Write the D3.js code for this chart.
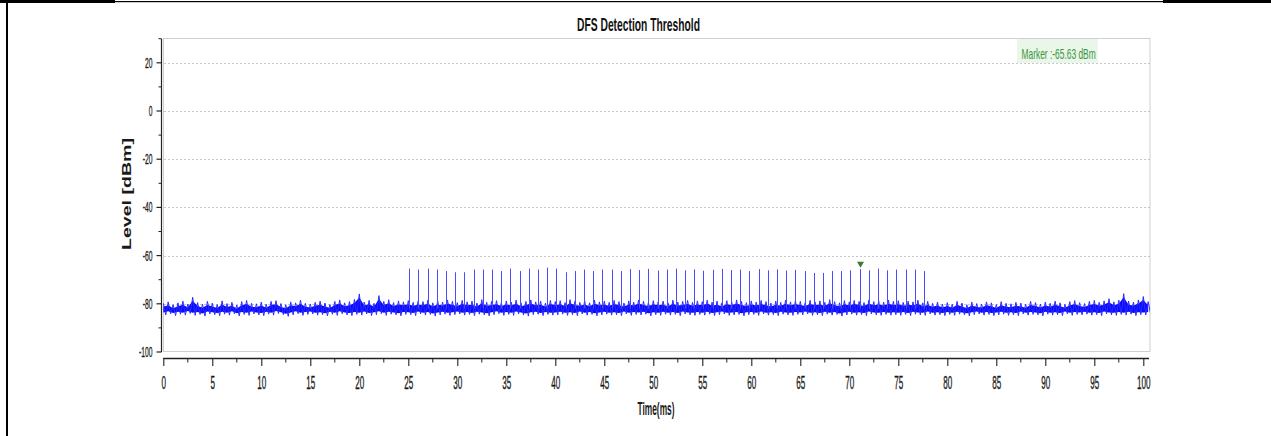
<!DOCTYPE html>
<html>
<head>
<meta charset="utf-8">
<script src="https://cdn.jsdelivr.net/npm/d3@7"></script>
<style>
  html, body { margin: 0; padding: 0; background: #fff; }
  svg { display: block; }
  text { font-family: "Liberation Sans", Arial, sans-serif; }
</style>
</head>
<body>
<svg id="chart" width="1271" height="436"></svg>
<script>
// ---------------- DATA ----------------
const chartTitle = "DFS Detection Threshold";
const xLabel = "Time(ms)";
const yLabel = "Level [dBm]";
const markerText = "Marker :-65.63 dBm";
const markerTime = 71.06;
const markerLevel = -65.63;

const xTicks = [0, 5, 10, 15, 20, 25, 30, 35, 40, 45, 50, 55, 60, 65, 70, 75, 80, 85, 90, 95, 100];
const yTicks = [-100, -80, -60, -40, -20, 0, 20];

// noise envelope, sampled every 0.5 ms from 0 to 100.5 ms (dBm)
const noiseHigh = [
  -79.8,-79.2,-80.4,-79.6,-78.9,-80.1,-77.3,-79.5,-80.2,-79.0,
  -79.7,-80.3,-78.8,-79.9,-79.4,-80.5,-79.1,-78.6,-79.8,-80.0,
  -79.3,-80.2,-79.0,-78.7,-79.9,-80.4,-79.2,-79.6,-78.5,-79.8,
  -80.1,-79.4,-78.9,-79.7,-80.3,-79.0,-78.4,-79.6,-79.1,-78.2,
  -75.9,-79.3,-78.6,-79.8,-76.6,-79.0,-78.3,-79.5,-78.8,-79.2,
  -78.7,-79.4,-78.9,-79.1,-78.5,-79.6,-78.8,-79.3,-78.4,-79.0,
  -79.5,-78.6,-79.2,-78.9,-79.7,-78.3,-79.4,-79.0,-78.7,-79.5,
  -78.8,-79.3,-78.5,-79.6,-79.0,-78.4,-79.2,-78.9,-79.7,-78.6,
  -79.1,-78.7,-79.5,-78.3,-79.0,-79.4,-78.8,-79.6,-78.5,-79.2,
  -78.9,-79.4,-78.6,-79.1,-79.7,-78.8,-79.3,-78.4,-79.0,-79.5,
  -78.7,-79.2,-78.9,-79.6,-78.5,-79.3,-79.0,-78.6,-79.4,-78.8,
  -79.1,-78.5,-79.3,-78.9,-79.6,-78.7,-79.2,-78.4,-79.0,-79.5,
  -78.8,-79.3,-78.6,-79.1,-79.7,-78.9,-79.4,-78.5,-79.2,-78.7,
  -79.0,-79.5,-78.6,-79.2,-78.8,-79.4,-78.3,-79.1,-79.6,-78.7,
  -79.2,-78.6,-79.0,-79.5,-78.4,-79.1,-78.8,-79.3,-78.5,-79.0,
  -78.7,-79.4,-78.9,-79.2,-78.5,-79.6,-79.0,-79.8,-79.3,-80.1,
  -79.5,-80.2,-79.0,-79.7,-80.4,-79.3,-79.9,-80.1,-79.2,-79.6,
  -80.3,-79.1,-79.8,-80.0,-79.4,-79.7,-80.2,-79.0,-79.5,-80.1,
  -79.3,-79.8,-78.9,-79.6,-80.2,-79.1,-78.7,-79.5,-79.9,-79.0,
  -78.6,-79.4,-78.8,-77.9,-79.2,-78.5,-75.8,-78.9,-79.3,-78.4,
  -77.0,-79.1
];
const noiseLow = [
  -84.6,-84.1,-84.9,-84.3,-84.7,-84.0,-84.8,-84.4,-85.1,-84.2,
  -84.5,-84.9,-84.3,-84.7,-84.1,-85.0,-84.4,-84.8,-84.2,-84.6,
  -84.9,-84.3,-84.7,-84.0,-84.5,-85.2,-84.6,-84.1,-84.8,-84.4,
  -84.2,-84.7,-84.5,-85.0,-84.3,-84.8,-84.1,-84.6,-84.9,-84.4,
  -84.7,-84.2,-84.9,-84.5,-84.1,-84.8,-84.3,-84.6,-85.0,-84.4,
  -84.5,-84.9,-84.2,-84.7,-84.4,-85.1,-84.6,-84.3,-84.8,-84.5,
  -84.2,-84.7,-84.4,-84.9,-84.3,-84.6,-85.0,-84.5,-84.1,-84.8,
  -84.4,-84.8,-84.2,-84.6,-85.1,-84.5,-84.3,-84.9,-84.4,-84.7,
  -84.6,-84.3,-84.8,-84.5,-84.9,-84.2,-84.7,-84.4,-85.0,-84.6,
  -84.3,-84.7,-84.5,-84.9,-84.2,-84.8,-84.4,-84.6,-84.3,-85.0,
  -84.5,-84.8,-84.3,-84.7,-84.4,-84.9,-84.2,-84.6,-84.8,-84.4,
  -84.7,-84.3,-84.9,-84.5,-84.2,-84.8,-84.6,-84.4,-85.0,-84.5,
  -84.4,-84.8,-84.2,-84.7,-84.5,-84.9,-84.3,-84.6,-84.8,-84.4,
  -84.6,-84.2,-84.8,-84.5,-84.9,-84.3,-84.7,-84.4,-85.1,-84.6,
  -84.3,-84.7,-84.5,-84.9,-84.2,-84.6,-84.8,-84.4,-84.7,-84.5,
  -84.8,-84.4,-84.9,-84.3,-84.6,-84.8,-84.2,-84.7,-84.5,-84.9,
  -84.4,-84.8,-84.3,-84.6,-85.0,-84.5,-84.2,-84.7,-84.4,-84.9,
  -84.6,-84.3,-84.8,-84.5,-84.9,-84.2,-84.7,-84.4,-84.6,-85.0,
  -84.3,-84.7,-84.5,-84.9,-84.2,-84.8,-84.4,-84.6,-84.3,-84.7,
  -84.5,-84.9,-84.2,-84.6,-84.8,-84.4,-84.7,-84.3,-84.9,-84.5,
  -84.6,-84.4
];
const noiseBase = -82.0;

// radar pulses (time in ms, peak level in dBm)
const pulseTimes = [
  25.10,26.04,26.98,27.91,28.85,29.79,30.73,31.67,32.60,33.54,
  34.48,35.42,36.36,37.29,38.23,39.17,40.11,41.05,41.98,42.92,
  43.86,44.80,45.74,46.67,47.61,48.55,49.49,50.43,51.36,52.30,
  53.24,54.18,55.12,56.05,56.99,57.93,58.87,59.81,60.74,61.68,
  62.62,63.56,64.50,65.43,66.37,67.31,68.25,69.19,70.12,71.06,
  72.00,72.94,73.88,74.81,75.75,76.69,77.63
];
const pulsePeaks = [
  -65.4,-65.8,-65.4,-65.8,-66.4,-66.9,-66.9,-65.8,-65.8,-65.8,
  -66.4,-65.4,-66.4,-65.4,-65.8,-65.0,-65.4,-66.9,-66.4,-65.8,
  -66.4,-65.8,-65.8,-66.4,-65.6,-66.0,-65.5,-66.2,-65.8,-65.4,
  -66.1,-65.7,-66.3,-65.9,-65.5,-66.0,-65.8,-66.4,-65.6,-66.1,
  -65.7,-66.2,-65.9,-66.4,-67.2,-67.2,-66.4,-66.4,-66.1,-65.6,
  -66.1,-65.4,-66.1,-65.8,-65.8,-65.8,-66.4
];

// ---------------- DRAW ----------------
const svg = d3.select("#chart");
const x = d3.scaleLinear().domain([0, 100]).range([163.3, 1143.3]);
const y = d3.scaleLinear().domain([-100, 30]).range([352, 38.7]);
const plotRight = 1150;

svg.append("defs").append("clipPath").attr("id", "plotClip")
  .append("rect").attr("x", 163).attr("y", 38).attr("width", plotRight - 163).attr("height", 314);

// outer page frame lines
svg.append("rect").attr("x", 6).attr("y", 0).attr("width", 2).attr("height", 436).attr("fill", "#000");
svg.append("rect").attr("x", 0).attr("y", 0).attr("width", 115).attr("height", 3).attr("fill", "#000");
svg.append("rect").attr("x", 115).attr("y", 1).attr("width", 1048).attr("height", 1.2).attr("fill", "#000");
svg.append("rect").attr("x", 1163).attr("y", 0).attr("width", 108).attr("height", 3).attr("fill", "#000");

// plot frame
svg.append("rect")
  .attr("x", 163.5).attr("y", 38.5)
  .attr("width", plotRight - 163.5).attr("height", 351.5 - 38.5)
  .attr("fill", "none").attr("stroke", "#d0d0d0").attr("stroke-width", 1);

// horizontal grid
svg.append("g").selectAll("line").data(yTicks.filter(v => v > -100)).join("line")
  .attr("x1", 164).attr("x2", plotRight)
  .attr("y1", d => Math.round(y(d)) + 0.5).attr("y2", d => Math.round(y(d)) + 0.5)
  .attr("stroke", "#c8c8c8").attr("stroke-width", 1).attr("stroke-dasharray", "2,2");

// marker label box
svg.append("rect").attr("x", 1017).attr("y", 39).attr("width", 81).attr("height", 24)
  .attr("fill", "#e9f6e9");
svg.append("text")
  .attr("transform", "translate(1021.5,59) scale(0.6,1)")
  .attr("font-size", 14).attr("fill", "#3a963a")
  .text(markerText);

// noise: dense core + min/max trace
const plotG = svg.append("g").attr("clip-path", "url(#plotClip)");
const tGrid = d3.range(noiseHigh.length).map(i => i * 0.5);
const core = d3.area()
  .x((d, i) => x(tGrid[i]))
  .y0((d, i) => y(noiseLow[i]) - 2.5)
  .y1((d, i) => y(noiseHigh[i]) + 3.5);
plotG.append("path").datum(noiseHigh)
  .attr("d", core)
  .attr("fill", "#0a0aff");

const tracePts = [];
tGrid.forEach((t, i) => {
  tracePts.push([x(t), y(noiseHigh[i])]);
  tracePts.push([x(t + 0.25), y(noiseLow[i])]);
});
plotG.append("path")
  .attr("d", d3.line()(tracePts))
  .attr("fill", "none").attr("stroke", "#2a2aff").attr("stroke-width", 1)
  .attr("stroke-linejoin", "miter");

// pulses
plotG.append("g").selectAll("line").data(pulseTimes).join("line")
  .attr("x1", d => Math.round(x(d)) + 0.5).attr("x2", d => Math.round(x(d)) + 0.5)
  .attr("y1", y(noiseBase))
  .attr("y2", (d, i) => y(pulsePeaks[i]))
  .attr("stroke", "#4b4bff").attr("stroke-width", 1);

// marker triangle
const mx = Math.round(x(markerTime)) + 0.5, my = y(markerLevel) - 1.5;
svg.append("path")
  .attr("d", `M${mx - 3.5},${my - 6} L${mx + 3.5},${my - 6} L${mx},${my} Z`)
  .attr("fill", "#3b7a3b");

// y axis
const yMinor = [-90, -70, -50, -30, -10, 10, 30];
const yAxisG = svg.append("g").attr("transform", "translate(161.5,0)");
yAxisG.append("line").attr("x1", 0).attr("x2", 0).attr("y1", y(30)).attr("y2", y(-100))
  .attr("stroke", "#222").attr("stroke-width", 1.2);
yAxisG.selectAll(".ymaj").data(yTicks).join("line").attr("class", "ymaj")
  .attr("x1", -5).attr("x2", 0).attr("y1", d => y(d)).attr("y2", d => y(d))
  .attr("stroke", "#222").attr("stroke-width", 1.2);
yAxisG.selectAll(".ymin").data(yMinor).join("line").attr("class", "ymin")
  .attr("x1", -3).attr("x2", 0).attr("y1", d => y(d)).attr("y2", d => y(d))
  .attr("stroke", "#222").attr("stroke-width", 1);
yAxisG.selectAll("text").data(yTicks).join("text")
  .attr("transform", d => `translate(-9,${y(d) + 5}) scale(0.48,1)`)
  .attr("text-anchor", "end").attr("font-size", 14).attr("fill", "#1a1a1a")
  .attr("stroke", "#1a1a1a").attr("stroke-width", 0.3)
  .text(d => d);

// x axis
const xAxis = d3.axisBottom(x).tickValues(xTicks).tickSize(8).tickSizeOuter(0).tickFormat(d => d);
const xAxisG = svg.append("g").attr("transform", "translate(0,358)").call(xAxis);
xAxisG.select(".domain").attr("d", `M163.3,0.5H1149`).attr("stroke", "#222").attr("stroke-width", 1.3);
xAxisG.selectAll(".tick line").attr("stroke", "#222").attr("stroke-width", 1.1);
xAxisG.selectAll(".tick text")
  .attr("y", 0).attr("dy", 0)
  .attr("transform", "translate(0,31) scale(0.45,1)")
  .attr("font-size", 18).attr("fill", "#1a1a1a")
  .attr("stroke", "#1a1a1a").attr("stroke-width", 0.35)
  .attr("font-family", "Liberation Sans, Arial, sans-serif");
const xMinor = d3.range(2.5, 100, 5);
xAxisG.selectAll(".xmin").data(xMinor).join("line").attr("class", "xmin")
  .attr("x1", d => x(d)).attr("x2", d => x(d)).attr("y1", 0).attr("y2", 4.5)
  .attr("stroke", "#222").attr("stroke-width", 1);

// titles
svg.append("text")
  .attr("x", 638.5).attr("y", 31).attr("text-anchor", "middle")
  .attr("font-size", 19).attr("font-weight", "bold").attr("fill", "#111")
  .attr("textLength", 123).attr("lengthAdjust", "spacingAndGlyphs")
  .text(chartTitle);
svg.append("text")
  .attr("x", 637.5).attr("y", 415)
  .attr("font-size", 18).attr("font-weight", "bold").attr("fill", "#1a1a1a")
  .attr("textLength", 37).attr("lengthAdjust", "spacingAndGlyphs")
  .text(xLabel);
svg.append("text")
  .attr("transform", "translate(131,250) rotate(-90)")
  .attr("font-size", 12).attr("font-weight", "bold").attr("fill", "#1a1a1a")
  .attr("textLength", 112).attr("lengthAdjust", "spacingAndGlyphs")
  .text(yLabel);
</script>
</body>
</html>
